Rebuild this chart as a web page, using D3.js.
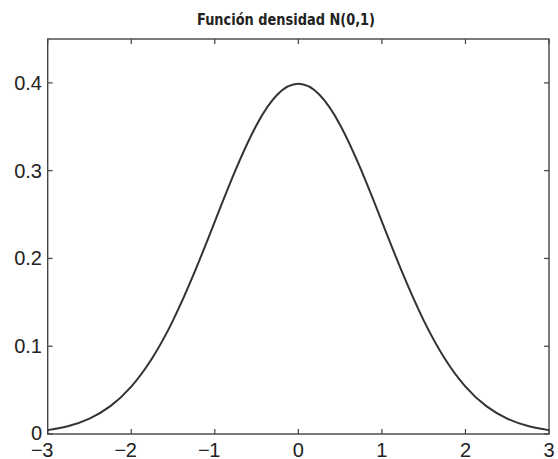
<!DOCTYPE html>
<html>
<head>
<meta charset="utf-8">
<script src="https://cdn.jsdelivr.net/npm/d3@7"></script>
<style>
  html, body { margin: 0; padding: 0; background: #fff; }
  svg { display: block; }
</style>
</head>
<body>
<div id="chart"></div>
<script>
let w = 558,
    h = 459

// curve values
let xs = [-3, -2.75, -2.5, -2.25, -2, -1.75, -1.5, -1.25, -1, -0.75, -0.5, -0.25, 0,
          0.25, 0.5, 0.75, 1, 1.25, 1.5, 1.75, 2, 2.25, 2.5, 2.75, 3]
let ys = [0.0044, 0.0091, 0.0175, 0.0317, 0.054, 0.0863, 0.1295, 0.1826, 0.242, 0.3011, 0.3521, 0.3867, 0.3989,
          0.3867, 0.3521, 0.3011, 0.242, 0.1826, 0.1295, 0.0863, 0.054, 0.0317, 0.0175, 0.0091, 0.0044]
let xTicks = [-3, -2, -1, 0, 1, 2, 3]
let yTicks = [0, 0.1, 0.2, 0.3, 0.4]
let title = 'Función densidad N(0,1)'

let m = { left: 47.7, right: 549, top: 39, bottom: 434 }
let axisColor = '#444'
let textColor = '#222'
let tickFont = '"Liberation Sans", Arial, sans-serif'

let x = d3.scaleLinear().domain([-3, 3]).range([m.left, m.right])
let y = d3.scaleLinear().domain([0, 0.45]).range([m.bottom, m.top])

let svg = d3.select('#chart')
    .append('svg')
    .attr('width', w)
    .attr('height', h)

// title
svg.append('text')
    .text(title)
    .attr('x', 286)
    .attr('y', 24.5)
    .attr('text-anchor', 'middle')
    .attr('font-family', '"DejaVu Sans Condensed", "DejaVu Sans", sans-serif')
    .attr('font-stretch', 'condensed')
    .attr('font-weight', 'bold')
    .attr('font-size', 15)
    .attr('textLength', 178)
    .attr('lengthAdjust', 'spacingAndGlyphs')
    .attr('fill', textColor)

// frame
svg.append('rect')
    .attr('x', m.left)
    .attr('y', m.top)
    .attr('width', m.right - m.left)
    .attr('height', m.bottom - m.top)
    .attr('fill', 'none')
    .attr('stroke', axisColor)
    .attr('stroke-width', 1.4)

// inward ticks, bottom + top
let tickLen = 5
let xT = svg.append('g').attr('stroke', axisColor).attr('stroke-width', 1.2)
xTicks.forEach(t => {
    xT.append('line').attr('x1', x(t)).attr('x2', x(t)).attr('y1', m.bottom).attr('y2', m.bottom - tickLen)
    xT.append('line').attr('x1', x(t)).attr('x2', x(t)).attr('y1', m.top).attr('y2', m.top + tickLen)
})
let yT = svg.append('g').attr('stroke', axisColor).attr('stroke-width', 1.2)
yTicks.forEach(t => {
    yT.append('line').attr('x1', m.left).attr('x2', m.left + tickLen).attr('y1', y(t)).attr('y2', y(t))
    yT.append('line').attr('x1', m.right).attr('x2', m.right - tickLen).attr('y1', y(t)).attr('y2', y(t))
})

// x labels: digit centred on tick, minus hanging to the left
let xl = svg.append('g')
    .attr('font-family', tickFont)
    .attr('font-size', 20)
    .attr('fill', textColor)
xTicks.forEach(t => {
    xl.append('text')
        .text(Math.abs(t))
        .attr('x', x(t))
        .attr('y', 456.5)
        .attr('text-anchor', 'middle')
    if (t < 0) {
        xl.append('text')
            .text('\u2212')
            .attr('x', x(t) - 5)
            .attr('y', 456.5)
            .attr('text-anchor', 'end')
    }
})

// y labels
svg.append('g')
    .attr('font-family', tickFont)
    .attr('font-size', 20)
    .attr('fill', textColor)
    .selectAll('text')
    .data(yTicks)
    .enter()
    .append('text')
    .text(d => d === 0 ? '0' : d3.format('.1f')(d))
    .attr('x', 42)
    .attr('y', d => y(d))
    .attr('dy', d => d === 0 ? '0.3em' : '0.35em')
    .attr('text-anchor', 'end')

// density curve
let line = d3.line()
    .x((d, i) => x(xs[i]))
    .y(d => y(d))
    .curve(d3.curveNatural)

svg.append('path')
    .attr('d', line(ys))
    .attr('fill', 'none')
    .attr('stroke', '#333')
    .attr('stroke-width', 2)
</script>
</body>
</html>
